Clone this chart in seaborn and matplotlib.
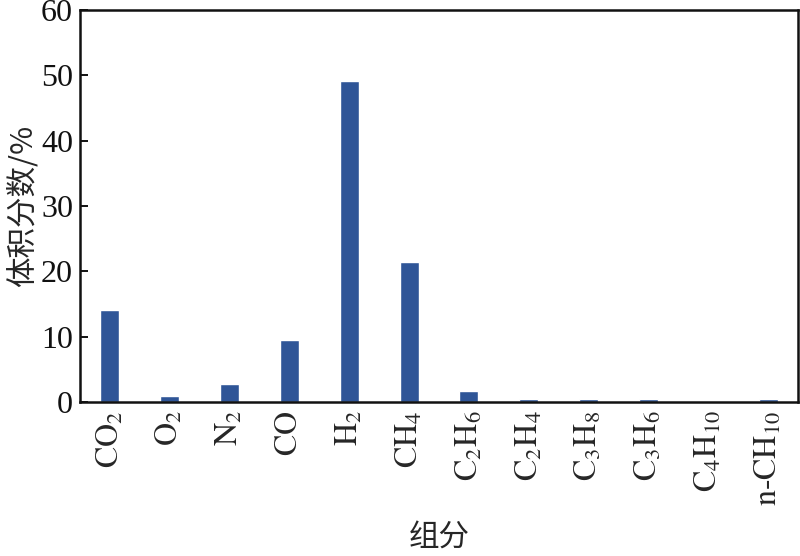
import matplotlib
matplotlib.use("Agg")
import matplotlib.pyplot as plt
import seaborn as sns
import pandas as pd

categories = [r"$\mathrm{CO_2}$", r"$\mathrm{O_2}$", r"$\mathrm{N_2}$", r"$\mathrm{CO}$",
              r"$\mathrm{H_2}$", r"$\mathrm{CH_4}$", r"$\mathrm{C_2H_6}$", r"$\mathrm{C_2H_4}$",
              r"$\mathrm{C_3H_8}$", r"$\mathrm{C_3H_6}$", r"$\mathrm{C_4H_{10}}$", r"$\mathrm{n\text{-}CH_{10}}$"]
values = [14.1, 0.9, 2.7, 9.5, 49.1, 21.5, 1.7, 0.4, 0.4, 0.4, 0.0, 0.4]
yticks = [0, 10, 20, 30, 40, 50, 60]

sns.set_theme(style="ticks")
plt.rcParams["font.family"] = ["Liberation Serif", "Noto Sans CJK SC"]
plt.rcParams["mathtext.fontset"] = "stix"

df = pd.DataFrame({"cat": categories, "val": values})

fig = plt.figure(figsize=(8, 5.56), dpi=100)
ax = fig.add_axes([0.1, 0.277, 0.8975, 0.705])
sns.barplot(data=df, x="cat", y="val", color="#2F5597", saturation=1, width=0.32, ax=ax)

ax.set_ylim(0, 60)
ax.set_yticks(yticks)
ax.set_xlim(-0.5, len(categories) - 0.5)
ax.tick_params(axis="y", direction="in", length=6, width=1.4, labelsize=23, pad=5, colors="#111111")
ax.tick_params(axis="x", length=0, labelsize=23, pad=6, labelrotation=90)
for lab in ax.get_yticklabels():
    lab.set_color("#111111")
for s in ax.spines.values():
    s.set_linewidth(1.8)
    s.set_color("#111111")
ax.set_ylabel("体积分数/%", fontsize=22, family=["Noto Sans CJK SC"], labelpad=2)
ax.set_xlabel("组分", fontsize=22, family=["Noto Sans CJK SC"], labelpad=12)

fig.savefig("out.png", dpi=100)
